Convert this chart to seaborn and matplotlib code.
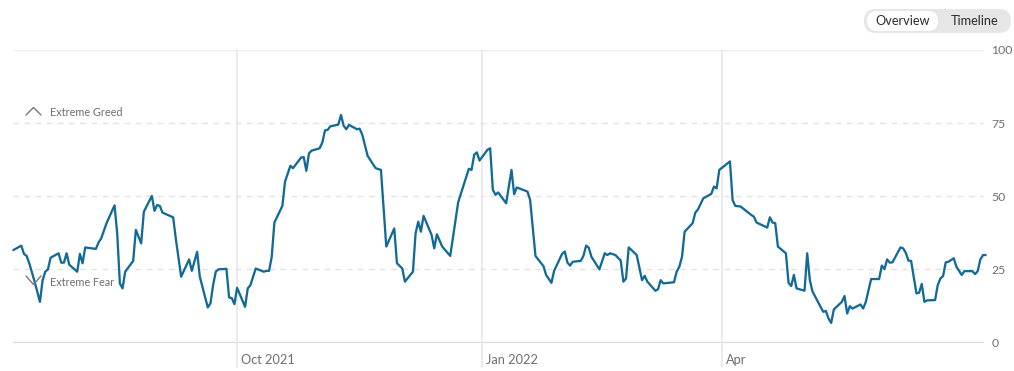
import pandas as pd
import numpy as np
import matplotlib
matplotlib.use("Agg")
import matplotlib.pyplot as plt
import matplotlib.dates as mdates
import matplotlib.transforms as mtransforms
from matplotlib.patches import FancyBboxPatch
from matplotlib.lines import Line2D
import seaborn as sns

# ---------------- data ----------------
dates = [
    "2021-07-09", "2021-07-12", "2021-07-13", "2021-07-14", "2021-07-15", "2021-07-17",
    "2021-07-19", "2021-07-20", "2021-07-21", "2021-07-22", "2021-07-23", "2021-07-26",
    "2021-07-27", "2021-07-28", "2021-07-29", "2021-07-30", "2021-08-02", "2021-08-03",
    "2021-08-04", "2021-08-05", "2021-08-09", "2021-08-10", "2021-08-11", "2021-08-13",
    "2021-08-16", "2021-08-17", "2021-08-18", "2021-08-19", "2021-08-20", "2021-08-23",
    "2021-08-24", "2021-08-26", "2021-08-27", "2021-08-30", "2021-08-31", "2021-09-01",
    "2021-09-02", "2021-09-03", "2021-09-07", "2021-09-08", "2021-09-10", "2021-09-13",
    "2021-09-14", "2021-09-16", "2021-09-17", "2021-09-20", "2021-09-21", "2021-09-22",
    "2021-09-23", "2021-09-24", "2021-09-27", "2021-09-28", "2021-09-29", "2021-09-30",
    "2021-10-01", "2021-10-04", "2021-10-05", "2021-10-06", "2021-10-08", "2021-10-11",
    "2021-10-12", "2021-10-13", "2021-10-14", "2021-10-15", "2021-10-18", "2021-10-19",
    "2021-10-21", "2021-10-22", "2021-10-25", "2021-10-26", "2021-10-27", "2021-10-28",
    "2021-10-29", "2021-11-01", "2021-11-02", "2021-11-03", "2021-11-04", "2021-11-05",
    "2021-11-08", "2021-11-09", "2021-11-10", "2021-11-11", "2021-11-12", "2021-11-15",
    "2021-11-16", "2021-11-17", "2021-11-19", "2021-11-22", "2021-11-24", "2021-11-26",
    "2021-11-29", "2021-11-30", "2021-12-02", "2021-12-03", "2021-12-06", "2021-12-07",
    "2021-12-08", "2021-12-09", "2021-12-10", "2021-12-13", "2021-12-14", "2021-12-15",
    "2021-12-17", "2021-12-20", "2021-12-23", "2021-12-27", "2021-12-28", "2021-12-29",
    "2021-12-30", "2021-12-31", "2022-01-03", "2022-01-04", "2022-01-05", "2022-01-06",
    "2022-01-07", "2022-01-10", "2022-01-12", "2022-01-13", "2022-01-14", "2022-01-18",
    "2022-01-19", "2022-01-21", "2022-01-24", "2022-01-25", "2022-01-27", "2022-01-28",
    "2022-01-31", "2022-02-01", "2022-02-02", "2022-02-03", "2022-02-04", "2022-02-07",
    "2022-02-08", "2022-02-09", "2022-02-10", "2022-02-11", "2022-02-14", "2022-02-16",
    "2022-02-17", "2022-02-18", "2022-02-20", "2022-02-22", "2022-02-23", "2022-02-24",
    "2022-02-25", "2022-02-28", "2022-03-02", "2022-03-03", "2022-03-04", "2022-03-07",
    "2022-03-08", "2022-03-09", "2022-03-10", "2022-03-14", "2022-03-15", "2022-03-16",
    "2022-03-17", "2022-03-18", "2022-03-21", "2022-03-22", "2022-03-23", "2022-03-25",
    "2022-03-28", "2022-03-29", "2022-03-30", "2022-03-31", "2022-04-04", "2022-04-05",
    "2022-04-06", "2022-04-08", "2022-04-12", "2022-04-13", "2022-04-14", "2022-04-18",
    "2022-04-19", "2022-04-20", "2022-04-21", "2022-04-22", "2022-04-25", "2022-04-26",
    "2022-04-27", "2022-04-28", "2022-04-29", "2022-05-02", "2022-05-03", "2022-05-04",
    "2022-05-05", "2022-05-09", "2022-05-10", "2022-05-11", "2022-05-12", "2022-05-13",
    "2022-05-16", "2022-05-17", "2022-05-18", "2022-05-19", "2022-05-20", "2022-05-23",
    "2022-05-24", "2022-05-25", "2022-05-27", "2022-05-30", "2022-05-31", "2022-06-01",
    "2022-06-02", "2022-06-03", "2022-06-04", "2022-06-07", "2022-06-08", "2022-06-09",
    "2022-06-10", "2022-06-11", "2022-06-13", "2022-06-14", "2022-06-15", "2022-06-16",
    "2022-06-17", "2022-06-20", "2022-06-21", "2022-06-22", "2022-06-23", "2022-06-24",
    "2022-06-25", "2022-06-27", "2022-06-28", "2022-06-30", "2022-07-01", "2022-07-04",
    "2022-07-05", "2022-07-06", "2022-07-07", "2022-07-08", "2022-07-09",
]
values = [
    31.6, 33.1, 30.3, 29.6, 27.1, 20.8,
    13.9, 21.3, 24.2, 25.0, 29.0, 30.5,
    27.3, 27.3, 30.5, 26.6, 24.2, 30.3,
    27.1, 32.5, 32.0, 34.2, 35.6, 40.8,
    46.9, 37.3, 20.2, 18.5, 24.2, 27.9,
    38.5, 33.9, 44.7, 50.1, 45.0, 47.0,
    46.7, 44.4, 42.8, 35.5, 22.5, 28.4,
    24.5, 31.0, 22.5, 12.0, 13.4, 19.6,
    24.2, 25.0, 25.2, 15.4, 15.2, 13.1,
    18.7, 12.2, 18.5, 19.6, 25.3, 24.2,
    24.5, 24.5, 29.3, 41.0, 46.7, 55.0,
    60.4, 59.6, 63.2, 63.4, 58.7, 64.7,
    65.6, 66.4, 68.4, 72.5, 72.7, 73.9,
    74.5, 77.8, 74.1, 72.9, 74.4, 72.9,
    73.1, 71.0, 63.8, 59.6, 59.0, 32.8,
    39.0, 27.1, 25.3, 20.8, 24.2, 37.3,
    41.3, 37.9, 43.3, 36.8, 32.2, 37.0,
    32.8, 29.6, 48.0, 59.4, 59.0, 64.2,
    65.0, 62.2, 65.9, 66.4, 52.2, 50.5,
    51.3, 47.6, 59.0, 50.7, 53.0, 51.6,
    48.7, 29.6, 26.1, 23.1, 20.4, 24.5,
    30.3, 31.1, 27.3, 26.3, 27.6, 27.9,
    29.6, 33.1, 32.4, 29.3, 25.0, 30.5,
    29.9, 30.5, 29.9, 28.0, 20.8, 21.9,
    32.5, 29.9, 21.3, 22.8, 20.8, 17.7,
    18.2, 21.3, 20.2, 20.6, 24.2, 25.9,
    29.3, 37.9, 40.8, 44.4, 45.5, 49.3,
    50.8, 53.3, 52.7, 59.0, 61.9, 48.7,
    46.7, 46.5, 43.6, 43.0, 41.0, 39.3,
    42.8, 41.0, 40.8, 32.8, 30.5, 20.4,
    19.3, 23.1, 18.5, 17.7, 30.5, 21.3,
    17.4, 10.5, 10.8, 8.2, 6.7, 11.3,
    13.9, 15.9, 9.9, 12.4, 11.6, 13.0,
    11.6, 13.9, 21.7, 21.7, 26.3, 25.1,
    28.4, 27.3, 27.4, 32.5, 32.2, 30.7,
    28.0, 27.9, 16.8, 17.0, 20.0, 13.9,
    14.4, 14.5, 19.6, 21.9, 22.7, 27.4,
    27.6, 28.8, 25.9, 23.1, 24.4, 24.4,
    23.4, 24.4, 28.4, 29.9, 29.9,
]
month_ticks = ["2021-10-01", "2022-01-01", "2022-04-01"]
month_labels = ["Oct 2021", "Jan 2022", "Apr"]
y_ticks = [0, 25, 50, 75, 100]
y_labels = ["0", "25", "50", "75", "100"]
x_range = ["2021-07-09", "2022-07-09"]
zone_labels = ["Extreme Greed", "Extreme Fear"]
toggle_labels = ["Overview", "Timeline"]

df = pd.DataFrame({"date": pd.to_datetime(dates), "value": values})

# ---------------- style ----------------
sns.set_theme(style="white")
plt.rcParams["font.family"] = ["Lato", "DejaVu Sans"]

W, H = 1014, 371
fig = plt.figure(figsize=(W / 100, H / 100), dpi=100)
ax_left, ax_right, ax_top, ax_bottom = 13.3, 985.7, 50, 342.5
ax = fig.add_axes([ax_left / W, 1 - ax_bottom / H, (ax_right - ax_left) / W, (ax_bottom - ax_top) / H])

line_color = "#126a96"
label_color = "#6e6e6e"

# grid lines
for yt in y_ticks:
    if yt == 0:
        ax.axhline(yt, color="#d9d9d9", lw=1.6, zorder=1, xmax=0.9975)
    elif yt == 100:
        ax.axhline(yt, color="#efefef", lw=1.0, zorder=1, xmax=0.9975)
    else:
        ax.axhline(yt, color="#e2e2e2", lw=1.0, ls=(0, (4, 4)), zorder=1, xmax=0.9975)

for mt in month_ticks:
    ax.axvline(pd.Timestamp(mt), ymin=-0.085, ymax=1.0, color="#e8e8e8", lw=1.2,
               zorder=1, clip_on=False)

sns.lineplot(data=df, x="date", y="value", ax=ax, color=line_color, lw=1.65,
             zorder=3, clip_on=False)

ax.set_xlim(pd.Timestamp(x_range[0]), pd.Timestamp(x_range[1]))
ax.set_ylim(0, 100)
for s in ax.spines.values():
    s.set_visible(False)
ax.set_xlabel("")
ax.set_ylabel("")

ax.yaxis.tick_right()
ax.set_yticks(y_ticks)
ax.set_yticklabels(y_labels, color=label_color, fontsize=8.8)
ax.tick_params(axis="y", length=0, pad=4)

ax.set_xticks([pd.Timestamp(m) for m in month_ticks])
ax.set_xticklabels(month_labels, color=label_color, fontsize=9.2)
ax.tick_params(axis="x", length=0, pad=8)
offset = mtransforms.ScaledTranslation(4 / 100, 0, fig.dpi_scale_trans)
for lbl in ax.get_xticklabels():
    lbl.set_horizontalalignment("left")
    lbl.set_transform(lbl.get_transform() + offset)

# zone annotations (figure pixel coords)
def fx(px):
    return px / W

def fy(py):
    return 1 - py / H

fig.text(fx(50), fy(112), zone_labels[0], color=label_color, fontsize=7.8, va="center", ha="left")
fig.text(fx(50), fy(283), zone_labels[1], color=label_color, fontsize=7.8, va="center", ha="left")
fig.add_artist(Line2D([fx(26), fx(33.5), fx(41)], [fy(115), fy(107.5), fy(115)],
                      color="#777777", lw=1.0, transform=fig.transFigure))
fig.add_artist(Line2D([fx(26), fx(33.5), fx(41)], [fy(276), fy(284.5), fy(276)],
                      color="#777777", lw=1.0, transform=fig.transFigure, zorder=5))

# toggle control
outer = FancyBboxPatch((fx(864), fy(33)), fx(1011) - fx(864), fy(9) - fy(33),
                       boxstyle="round,pad=0,rounding_size=0.012",
                       transform=fig.transFigure, facecolor="#e6e6e6", edgecolor="none",
                       mutation_aspect=W / H)
inner = FancyBboxPatch((fx(867), fy(31)), fx(938) - fx(867), fy(11) - fy(31),
                       boxstyle="round,pad=0,rounding_size=0.0098",
                       transform=fig.transFigure, facecolor="white", edgecolor="none",
                       mutation_aspect=W / H)
fig.add_artist(outer)
fig.add_artist(inner)
fig.text(fx(902.5), fy(21), toggle_labels[0], color="#2b2b2b", fontsize=9.2, ha="center", va="center")
fig.text(fx(974.5), fy(21), toggle_labels[1], color="#2b2b2b", fontsize=9.2, ha="center", va="center")

fig.savefig("out.png", dpi=100, facecolor="white")
